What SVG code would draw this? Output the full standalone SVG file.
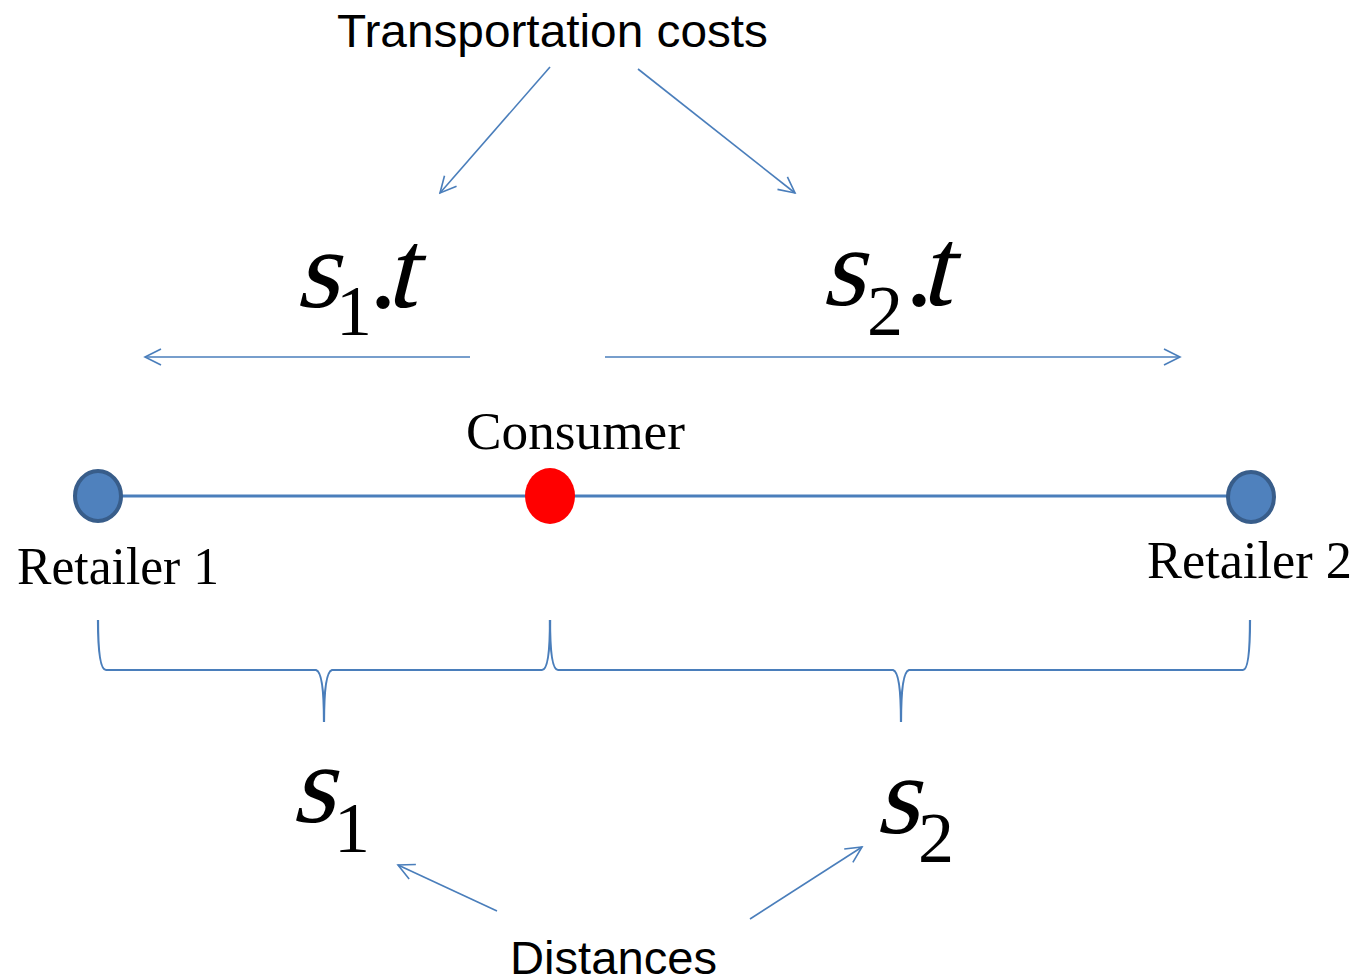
<svg xmlns="http://www.w3.org/2000/svg" width="1359" height="980" viewBox="0 0 1359 980">
<defs>
<style>
.sans{font-family:"Liberation Sans",Arial,sans-serif;fill:#000}
.serif{font-family:"Liberation Serif","Times New Roman",serif;fill:#000}
.var{font-family:"Liberation Serif","Times New Roman",serif;fill:#000;font-size:112px}
.sub{font-family:"Liberation Serif","Times New Roman",serif;fill:#000;font-size:72px}
.conn{stroke:#4a7ebb;stroke-width:1.6;fill:none}
.brace{stroke:#4a7ebb;stroke-width:2.2;fill:none}
.ret{fill:#4f81bd;stroke:#385d8a;stroke-width:4}
</style>
<marker id="ah" viewBox="0 0 20 20" refX="18" refY="10" markerWidth="20" markerHeight="20" markerUnits="userSpaceOnUse" orient="auto">
<path d="M2,2 L18,10 L2,18" fill="none" stroke="#4a7ebb" stroke-width="1.6"/>
</marker>
</defs>
<rect width="1359" height="980" fill="#fff"/>

<g id="connectors">
<line class="conn" x1="550" y1="67" x2="440" y2="193" marker-end="url(#ah)"/>
<line class="conn" x1="638" y1="69" x2="795" y2="193" marker-end="url(#ah)"/>
<line class="conn" x1="470" y1="357" x2="145" y2="357" marker-end="url(#ah)"/>
<line class="conn" x1="605" y1="357" x2="1180" y2="357" marker-end="url(#ah)"/>
<line class="conn" x1="497" y1="911" x2="398" y2="865" marker-end="url(#ah)"/>
<line class="conn" x1="750" y1="919" x2="862" y2="847" marker-end="url(#ah)"/>
<line x1="98" y1="496" x2="1251" y2="496" stroke="#4a7ebb" stroke-width="3"/>
<path class="brace" d="M98,620 Q98,670 106,670 L316,670 Q324,672 324,722 Q324,672 332,670 L542,670 Q550,670 550,620"/>
<path class="brace" d="M550,620 Q550,670 558,670 L893,670 Q901,672 901,722 Q901,672 909,670 L1243,670 Q1250,670 1250,620"/>
</g>

<g id="title">
<text class="sans" x="337" y="47" font-size="47" textLength="431" lengthAdjust="spacingAndGlyphs">Transportation costs</text>
</g>

<g id="cost1">
<text class="var" transform="translate(295,307) skewX(-14)">s</text>
<text class="sub" x="336" y="335">1</text>
<text class="var" x="369" y="307">.</text>
<text class="var" transform="translate(385,307) skewX(-14)">t</text>
</g>
<g id="cost2">
<text class="var" transform="translate(821,305) skewX(-14)">s</text>
<text class="sub" x="867" y="335">2</text>
<text class="var" x="905" y="305">.</text>
<text class="var" transform="translate(920,305) skewX(-14)">t</text>
</g>

<g id="consumer">
<ellipse cx="550" cy="496" rx="25" ry="28" fill="#ff0000"/>
<text class="serif" x="466" y="449" font-size="53" textLength="219" lengthAdjust="spacingAndGlyphs">Consumer</text>
</g>

<g id="retailer1">
<ellipse class="ret" cx="98" cy="496" rx="23" ry="25"/>
<text class="serif" x="17" y="584" font-size="52" textLength="202" lengthAdjust="spacingAndGlyphs">Retailer 1</text>
</g>

<g id="retailer2">
<ellipse class="ret" cx="1251" cy="497" rx="23" ry="25"/>
<text class="serif" x="1147" y="578" font-size="52" textLength="205" lengthAdjust="spacingAndGlyphs">Retailer 2</text>
</g>

<g id="dist1">
<text class="var" transform="translate(291,822) skewX(-14)">s</text>
<text class="sub" x="334" y="852">1</text>
</g>
<g id="dist2">
<text class="var" transform="translate(875,833) skewX(-14)">s</text>
<text class="sub" x="918" y="862">2</text>
</g>

<g id="distances">
<text class="sans" x="510" y="974" font-size="47" textLength="207" lengthAdjust="spacingAndGlyphs">Distances</text>
</g>
</svg>
